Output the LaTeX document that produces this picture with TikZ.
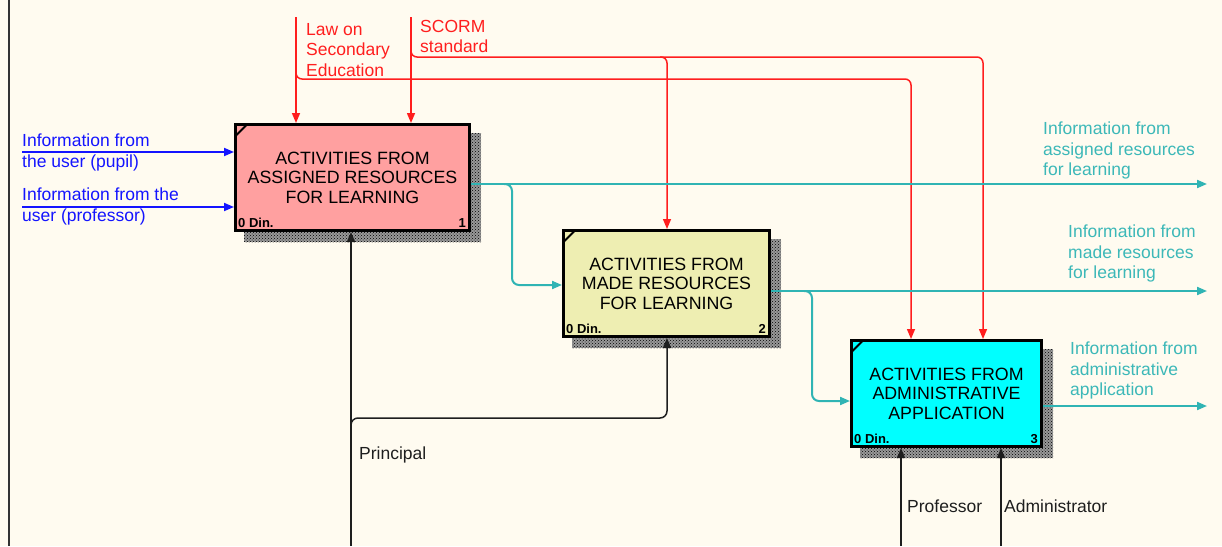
\documentclass[tikz,border=0pt]{standalone}
\usepackage{fontspec}
\setmainfont{Liberation Sans}
\usetikzlibrary{arrows.meta,patterns,backgrounds}

\definecolor{paper}{RGB}{255,251,240}
\definecolor{ctrlred}{RGB}{255,30,30}
\definecolor{inblue}{RGB}{20,20,255}
\definecolor{outteal}{RGB}{48,180,180}
\definecolor{tealtext}{RGB}{60,184,184}
\definecolor{boxpink}{RGB}{255,160,160}
\definecolor{boxkhaki}{RGB}{238,238,178}
\definecolor{boxcyan}{RGB}{0,255,255}
\definecolor{mechgray}{RGB}{30,30,30}

\newcommand\lblfont{\fontsize{17.5}{20.5}\selectfont}
\newcommand\boxfont{\fontsize{17.8}{19.5}\selectfont}
\newcommand\dinfont{\fontsize{13}{15}\selectfont\bfseries}

\begin{document}
\begin{tikzpicture}[x=1pt,y=-1pt,
  >={Triangle[length=10pt,width=8pt]},
  activity/.style={draw=black, line width=3pt, inner sep=0pt, align=center,
    font=\boxfont, minimum height=106pt},
  dinlbl/.style={inner sep=0pt, font=\dinfont, text=black},
  lbl/.style={anchor=north west, inner sep=0pt, align=left, font=\lblfont},
  ctrl/.style={draw=ctrlred, line width=1.5pt},
  input/.style={draw=inblue, line width=1.8pt},
  output/.style={draw=outteal, line width=2pt},
  mech/.style={draw=mechgray, line width=1.5pt},
  tick/.style={draw=black, line width=2pt}]

\useasboundingbox (0,0) rectangle (1222,546);

% frame edge
\draw[line width=1.2pt, black!80] (9,0) -- (9,546);

% activity boxes
\node[activity, fill=boxpink, minimum width=234pt] (box1) at (352.5,177.5)
  {ACTIVITIES FROM\\ASSIGNED RESOURCES\\FOR LEARNING};
\node[activity, fill=boxkhaki, minimum width=206pt] (box2) at (666.5,283.5)
  {ACTIVITIES FROM\\MADE RESOURCES\\FOR LEARNING};
\node[activity, fill=boxcyan, minimum width=190pt] (box3) at (946.5,393.5)
  {ACTIVITIES FROM\\ADMINISTRATIVE\\APPLICATION};

% corner ticks, footers
\foreach \b/\n in {box1/1,box2/2,box3/3}{
  \draw[tick] ([shift={(1.5,13)}]\b.north west) -- ([shift={(13,1.5)}]\b.north west);
  \node[dinlbl, anchor=base west] (\b din) at ([shift={(4,-5)}]\b.south west) {0 Din.};
  \node[dinlbl, anchor=base east] (\b num) at ([shift={(-5,-5)}]\b.south east) {\n};
}

% shadows and paper
\begin{scope}[on background layer]
  \fill[paper] (0,0) rectangle (1222,546);
  \foreach \b in {box1,box2,box3}{
    \fill[black!40]
      ([shift={(10,10)}]\b.north west) rectangle ([shift={(10,10)}]\b.south east);
    \fill[pattern=crosshatch dots, pattern color=black]
      ([shift={(10,10)}]\b.north west) rectangle ([shift={(10,10)}]\b.south east);
  }
\end{scope}

% controls
\coordinate (c1) at (296,17);
\coordinate (c1j) at (296,70);
\coordinate (c1k) at (911,79);
\coordinate (c2) at (411,17);
\coordinate (c2j) at (411,50);
\coordinate (c2k) at (983,57);
\coordinate (c2m) at (660,57);
\coordinate (c2n) at (667,57);
\draw[ctrl,->] (c1) -- (c1 |- box1.north);
\draw[ctrl,->] (c2) -- (c2 |- box1.north);
\draw[ctrl,->,rounded corners=6] (c1j) |- (c1k) -- (c1k |- box3.north);
\draw[ctrl,->,rounded corners=6] (c2j) |- (c2k) -- (c2k |- box3.north);
\draw[ctrl,->,rounded corners=6] (c2m) -- (c2n) -- (c2n |- box2.north);
\node[lbl, text=ctrlred] (lawlbl) at (306,23) {Law on\\Secondary\\Education};
\node[lbl, text=ctrlred] (scormlbl) at (420,20) {SCORM\\standard};

% inputs
\coordinate (i1) at (22,152);
\coordinate (i2) at (22,207);
\draw[input,->] (i1) -- (i1 -| box1.west);
\draw[input,->] (i2) -- (i2 -| box1.west);
\node[lbl, text=inblue] (pupillbl) at (22,134) {Information from\\the user (pupil)};
\node[lbl, text=inblue] (proflbl) at (22,188) {Information from the\\user (professor)};

% outputs
\coordinate (o1) at (1207,184);
\coordinate (o2) at (1207,291);
\coordinate (o3) at (1207,406);
\coordinate (o1j) at (512,184);
\coordinate (o2j) at (812,291);
\coordinate (b2in) at (0,285);
\coordinate (b3in) at (0,401);
\draw[output,->] (o1 -| box1.east) -- (o1);
\draw[output,->] (o2 -| box2.east) -- (o2);
\draw[output,->] (o3 -| box3.east) -- (o3);
\draw[output,->,rounded corners=7] ([xshift=-8]o1j) -- (o1j) |- (b2in -| box2.west);
\draw[output,->,rounded corners=7] ([xshift=-8]o2j) -- (o2j) |- (b3in -| box3.west);
\node[lbl, text=tealtext] (out1lbl) at (1043,122) {Information from\\assigned resources\\for learning};
\node[lbl, text=tealtext] (out2lbl) at (1068,225) {Information from\\made resources\\for learning};
\node[lbl, text=tealtext] (out3lbl) at (1070,342) {Information from\\administrative\\application};

% mechanisms
\coordinate (m1) at (351,546);
\coordinate (m1j) at (351,425);
\coordinate (m1k) at (667,418);
\coordinate (m3a) at (901,546);
\coordinate (m3b) at (1001,546);
\draw[mech,->] (m1) -- (m1 |- box1.south);
\draw[mech,->,rounded corners=7] (m1j) |- (m1k) -- (m1k |- box2.south);
\draw[mech,->] (m3a) -- (m3a |- box3.south);
\draw[mech,->] (m3b) -- (m3b |- box3.south);
\node[lbl, text=mechgray] (princlbl) at (359,447) {Principal};
\node[lbl, text=mechgray] (proflbl2) at (907,500) {Professor};
\node[lbl, text=mechgray] (adminlbl) at (1004,500) {Administrator};
\end{tikzpicture}
\end{document}
